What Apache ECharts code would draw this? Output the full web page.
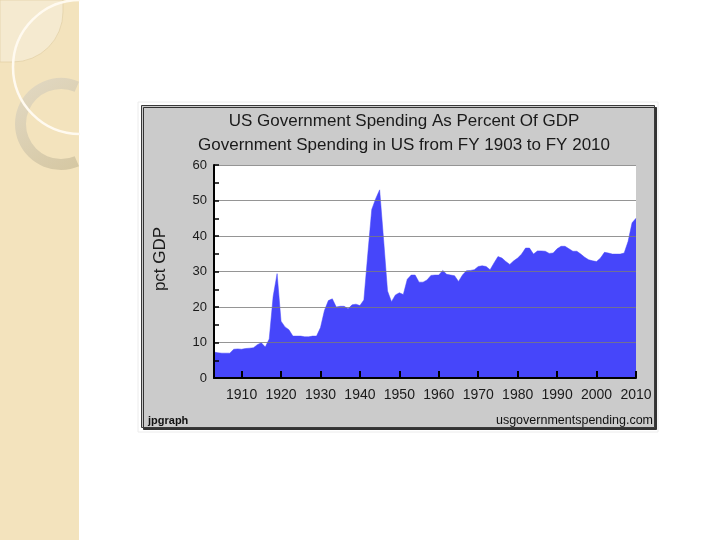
<!DOCTYPE html>
<html>
<head>
<meta charset="utf-8">
<script src="https://cdn.jsdelivr.net/npm/echarts@6/dist/echarts.min.js"></script>
<style>
html, body { margin: 0; padding: 0; background: #fff; }
#chart { width: 720px; height: 540px; }
</style>
</head>
<body>
<div id="chart"></div>
<script>
// fiscal years 1903 .. 2010
var years = [];
for (var y = 1903; y <= 2010; y++) years.push(String(y));

// government spending, pct of GDP
var pct = [
	7.3, 7.1, 7.0, 7.0, 7.0, 8.1, 8.2, 8.1, 8.3, 8.4,      // 1903-1912
	8.5, 9.4, 9.9, 8.7, 11.0, 23.0, 29.4, 16.0, 14.4, 13.6, // 1913-1922
	11.8, 11.8, 11.8, 11.6, 11.6, 11.8, 11.8, 14.2, 19.0, 21.8, // 1923-1932
	22.3, 20.0, 20.2, 20.2, 19.5, 20.6, 20.8, 20.4, 22.0, 35.0, // 1933-1942
	47.5, 50.5, 53.0, 39.0, 24.5, 21.5, 23.4, 24.0, 23.5, 27.8, // 1943-1952
	29.0, 29.0, 27.0, 27.0, 27.6, 28.9, 29.0, 29.0, 30.3, 29.2, // 1953-1962
	29.0, 28.8, 27.2, 29.0, 30.2, 30.3, 30.5, 31.4, 31.6, 31.4, // 1963-1972
	30.5, 32.4, 34.2, 33.8, 32.8, 32.0, 33.0, 33.8, 34.9, 36.6, // 1973-1982
	36.6, 34.9, 35.8, 35.8, 35.7, 35.1, 35.2, 36.4, 37.1, 37.1, // 1983-1992
	36.4, 35.7, 35.7, 34.9, 34.0, 33.3, 33.0, 32.8, 33.8, 35.4, // 1993-2002
	35.2, 34.9, 34.9, 34.9, 35.2, 38.5, 43.7, 45.0              // 2003-2010
];

var decade = function (i, v) { return Number(v) % 10 === 0; };
var font = "'Liberation Sans', Arial, sans-serif";
var ringCut = Math.acos(18 / 46);

var myChart = echarts.init(document.getElementById('chart'));
var option = {
	backgroundColor: '#ffffff',
	animation: false,
	title: [ {
		text: 'US Government Spending As Percent Of GDP',
		left: 399, top: 108, textAlign: 'center',
		textStyle: { fontFamily: font, fontSize: 17, fontWeight: 'normal', color: '#1a1a1a' }
	}, {
		text: 'Government Spending in US from FY 1903 to FY 2010',
		left: 399, top: 132, textAlign: 'center',
		textStyle: { fontFamily: font, fontSize: 17, fontWeight: 'normal', color: '#1a1a1a' }
	} ],
	graphic: [
		// slide strip on the left
		{ type: 'rect', z: -20, shape: { x: 0, y: 0, width: 79, height: 540 }, style: { fill: '#f3e3bd' } },
		{ type: 'rect', z: -19, shape: { x: 0, y: 0, width: 63, height: 62, r: [0, 0, 50, 0] },
		  style: { fill: '#f5ead0', stroke: '#e3d2a8', lineWidth: 0.8 } },
		{ type: 'sector', z: -18,
		  shape: { cx: 61, cy: 124, r: 46, r0: 35, startAngle: ringCut, endAngle: 2 * Math.PI - ringCut, clockwise: true },
		  style: { fill: new echarts.graphic.LinearGradient(0, 0, 1, 1, [
			{ offset: 0, color: '#e2d9c4' }, { offset: 1, color: '#d5c7a2' } ]) } },
		{ type: 'arc', z: -17,
		  shape: { cx: 80, cy: 67, r: 67, startAngle: Math.PI / 2, endAngle: Math.PI * 1.5, clockwise: true },
		  style: { fill: 'none', stroke: '#fffaf0', lineWidth: 2.5 } },
		// jpgraph frame
		{ type: 'rect', z: -15, shape: { x: 138, y: 102, width: 520, height: 330 },
		  style: { fill: 'none', stroke: '#ececec', lineWidth: 1 } },
		{ type: 'rect', z: -14, shape: { x: 141.5, y: 105.5, width: 513, height: 322 },
		  style: { fill: '#cbcbcb', stroke: '#3a3a3a', lineWidth: 1,
			shadowColor: '#333', shadowOffsetX: 2, shadowOffsetY: 2, shadowBlur: 0 } },
		{ type: 'text', z: 5, x: 160, y: 259, rotation: Math.PI / 2,
		  style: { text: 'pct GDP', font: '17px ' + font, fill: '#1a1a1a', align: 'center', verticalAlign: 'middle' } },
		{ type: 'text', z: 5, left: 148, top: 415,
		  style: { text: 'jpgraph', font: 'bold 11px ' + font, fill: '#111' } },
		{ type: 'text', z: 5, right: 67, top: 414,
		  style: { text: 'usgovernmentspending.com', font: '12.5px ' + font, fill: '#111' } }
	],
	grid: {
		left: 214, right: 84, top: 165, bottom: 162,
		show: true, backgroundColor: '#ffffff', borderWidth: 0
	},
	xAxis: {
		type: 'category',
		data: years,
		boundaryGap: false,
		z: 3,
		axisLine: { lineStyle: { color: '#000', width: 2 } },
		axisTick: { inside: true, length: 7, interval: decade, lineStyle: { color: '#000', width: 2 } },
		axisLabel: { interval: decade, margin: 10, fontSize: 14, fontFamily: font, color: '#1a1a1a' },
		splitLine: { show: false }
	},
	yAxis: {
		type: 'value',
		min: 0, max: 60, interval: 10,
		z: 3,
		axisLine: { show: true, lineStyle: { color: '#000', width: 2 } },
		axisTick: { show: true, inside: true, length: 5, lineStyle: { color: '#000', width: 1.5 } },
		minorTick: { show: true, splitNumber: 2, length: 5, lineStyle: { color: '#000', width: 1.5 } },
		splitLine: { show: true, lineStyle: { color: '#7a7a7a', width: 1, opacity: 0.8 } },
		axisLabel: { margin: 7, fontSize: 13, fontFamily: font, color: '#1a1a1a' }
	},
	series: [ {
		name: 'pct GDP',
		type: 'line',
		data: pct,
		symbol: 'none',
		z: 2,
		lineStyle: { color: '#4646fa', width: 0.5 },
		areaStyle: { color: '#4646fa', opacity: 1 }
	} ]
};
myChart.setOption(option);
</script>
</body>
</html>
